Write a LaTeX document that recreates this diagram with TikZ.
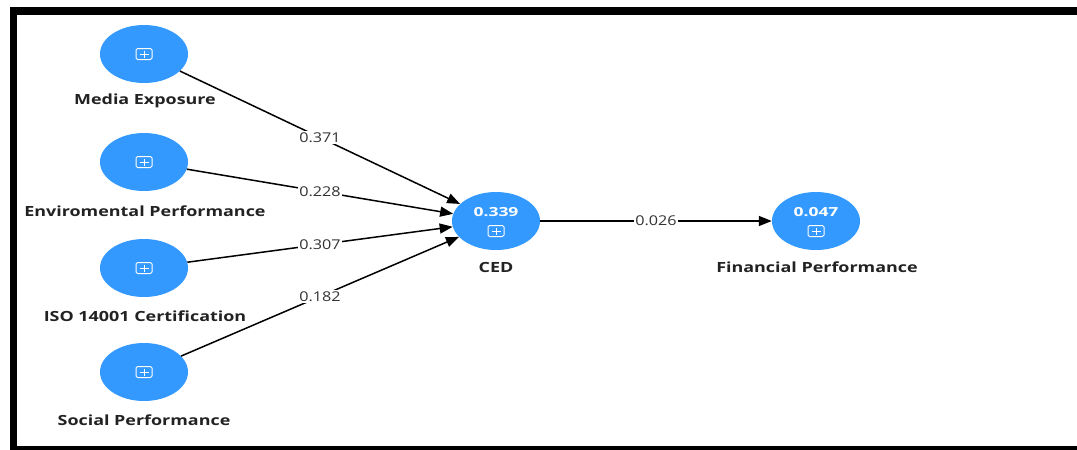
\documentclass[tikz,border=0pt]{standalone}
\usepackage{fontspec}
\setmainfont{Open Sans}
\usetikzlibrary{shapes.geometric,arrows.meta}
\definecolor{nodeblue}{RGB}{51,153,255}
\definecolor{lbltext}{RGB}{34,34,34}
\definecolor{numtext}{RGB}{51,51,51}
\newcommand{\widetxt}[2]{\scalebox{#1}[1]{#2}}
\tikzset{
  lv/.style={ellipse,fill=nodeblue,draw=none,minimum width=88pt,minimum height=58pt,inner sep=0pt},
  name label/.style={font=\fontsize{14}{16}\selectfont\bfseries,text=lbltext,inner sep=0pt},
  inval/.style={font=\fontsize{12.5}{14}\selectfont\bfseries,text=white,inner sep=0pt},
  coef/.style={font=\fontsize{13.5}{15}\selectfont,text=numtext,fill=white,inner sep=1.5pt},
  edge/.style={draw=black,line width=1.5pt,-{Stealth[length=13pt,width=10pt,inset=0pt]}},
  plusicon/.pic={
    \draw[white,line width=1pt,rounded corners=1.5pt] (-8,-5.5) rectangle (8,5.5);
    \draw[white,line width=1pt] (-4.5,0) -- (4.5,0) (0,-3.5) -- (0,3.5);
  }
}
\begin{document}
\begin{tikzpicture}[x=1pt,y=-1pt]
\useasboundingbox (0,0) rectangle (1077,450);
\fill[black] (10,7) rectangle (1077,450);
\fill[white] (17,15) rectangle (1077,446);
% latent variables
\node[lv] (me) at (144,54) {};
\node[lv] (ep) at (144,162) {};
\node[lv] (iso) at (144,268) {};
\node[lv] (sp) at (144,372) {};
\node[lv] (ced) at (496,221) {};
\node[lv] (fp) at (816,221) {};
% icons
\pic at (144,54) {plusicon};
\pic at (144,162) {plusicon};
\pic at (144,268) {plusicon};
\pic at (144,372) {plusicon};
\pic at (496,231) {plusicon};
\pic at (816,231) {plusicon};
% values inside
\node[inval] (cedval) at (496,212) {\widetxt{1.4}{0.339}};
\node[inval] (fpval) at (816,212) {\widetxt{1.4}{0.047}};
% name labels
\node[name label] (mel) at (145,101) {\widetxt{1.28}{Media Exposure}};
\node[name label] (epl) at (145,211) {\widetxt{1.28}{Enviromental Performance}};
\node[name label] (isol) at (145,316) {\widetxt{1.28}{ISO 14001 Certification}};
\node[name label] (spl) at (144,420) {\widetxt{1.28}{Social Performance}};
\node[name label] (cedl) at (496,267) {\widetxt{1.28}{CED}};
\node[name label] (fpl) at (817,267) {\widetxt{1.28}{Financial Performance}};
% paths
\draw[edge] (me) -- node[coef] {\widetxt{1.2}{0.371}} (ced);
\draw[edge] (ep) -- node[coef] {\widetxt{1.2}{0.228}} (ced);
\draw[edge] (iso) -- node[coef] {\widetxt{1.2}{0.307}} (ced);
\draw[edge] (sp) -- node[coef] {\widetxt{1.2}{0.182}} (ced);
\draw[edge] (ced) -- node[coef] {\widetxt{1.2}{0.026}} (fp);
\end{tikzpicture}
\end{document}
